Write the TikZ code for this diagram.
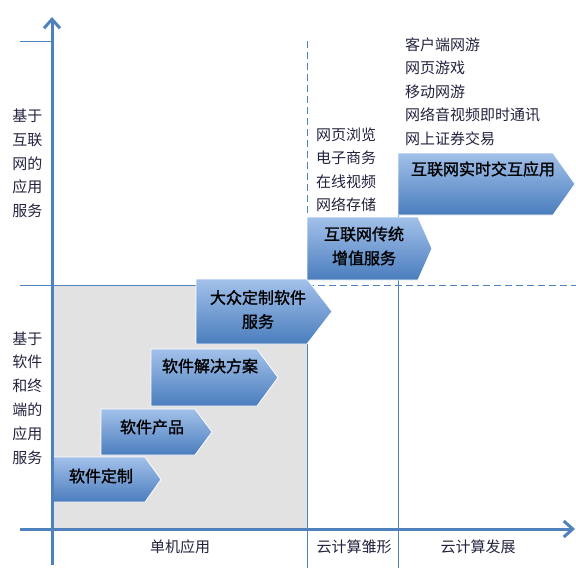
\documentclass[tikz,border=0pt]{standalone}
\usepackage{fontspec}
\setmainfont{Noto Sans CJK SC}
\newfontfamily\stagefont[FakeBold=1.4]{Noto Sans CJK SC}
\usetikzlibrary{arrows.meta}

\definecolor{axisblue}{HTML}{4F81BD}
\definecolor{boxtop}{HTML}{A3C1EA}
\definecolor{boxbottom}{HTML}{4A7DBD}
\definecolor{zonegray}{HTML}{E2E2E2}
\definecolor{labeltext}{HTML}{23233F}

\begin{document}
\begin{tikzpicture}[
    x=1pt,
    y=-1pt,
    axisline/.style={
        axisblue,
        line width=3pt,
        -{Straight Barb[length=9pt,width=16pt]}
    },
    guide/.style={
        axisblue,
        line width=1pt
    },
    guidedash/.style={
        guide,
        dash pattern=on 7pt off 4pt
    },
    stage/.style={
        top color=boxtop,
        bottom color=boxbottom,
        draw=white,
        line width=0.8pt
    },
    stagetext/.style={
        font=\stagefont\fontsize{16pt}{24pt}\selectfont,
        align=center,
        inner sep=0pt
    },
    sidetext/.style={
        labeltext,
        font=\fontsize{15pt}{23.8pt}\selectfont,
        align=center,
        inner sep=0pt
    },
    itemlist/.style={
        labeltext,
        font=\fontsize{15pt}{23.5pt}\selectfont,
        align=left,
        inner sep=0pt,
        anchor=north west
    }
]

\useasboundingbox (0,0) rectangle (576,568);

% zone of the standalone era
\fill[zonegray] (52,285) rectangle (307,529);

% guide lines
\draw[guide] (20,41) -- (52,41);
\draw[guide] (20,285) -- (307,285);
\draw[guidedash] (307,285) -- (576,285);
\draw[guidedash] (307,41) -- (307,217);
\draw[guide] (307,285) -- (307,568);
\draw[guide] (398,215) -- (398,568);

% stages
\shade[stage] (51,457) -- (145,457) -- (161,479.5) -- (145,502) -- (51,502) -- cycle;
\shade[stage] (101,409) -- (195,409) -- (212,432) -- (195,455) -- (101,455) -- cycle;
\shade[stage] (151,349) -- (257,349) -- (278,377.5) -- (257,406) -- (151,406) -- cycle;
\shade[stage] (196,279) -- (307,279) -- (332,311.5) -- (307,344) -- (196,344) -- cycle;
\shade[stage] (307,217) -- (418,217) -- (432,248.5) -- (418,280) -- (307,280) -- cycle;
\shade[stage] (398,153) -- (553,153) -- (575,184) -- (553,215) -- (398,215) -- cycle;

\node[stagetext] (custom) at (101,476) {软件定制};
\node[stagetext] (product) at (152,427) {软件产品};
\node[stagetext] (solution) at (210,366) {软件解决方案};
\node[stagetext] (masscustom) at (258,309.5) {大众定制软件\\服务};
\node[stagetext] (netvalue) at (364,246) {互联网传统\\增值服务};
\node[stagetext] (realtime) at (483,169) {互联网实时交互应用};

% examples
\node[itemlist] (weblist) at (316,127.5) {网页浏览\\电子商务\\在线视频\\网络存储};
\node[itemlist] (gamelist) at (405,37.5) {客户端网游\\网页游戏\\移动网游\\网络音视频即时通讯\\网上证券交易};

% axis labels
\node[sidetext] (netlabel) at (27.5,163.5) {基于\\互联\\网的\\应用\\服务};
\node[sidetext] (softlabel) at (27.5,398) {基于\\软件\\和终\\端的\\应用\\服务};
\node[sidetext] (standalone) at (180,547) {单机应用};
\node[sidetext] (cloudinit) at (354,547) {云计算雏形};
\node[sidetext] (clouddev) at (478,547) {云计算发展};

% axes
\coordinate (ybottom) at (52,565);
\coordinate (ytop) at (52,17);
\coordinate (xleft) at (20,529);
\coordinate (xright) at (575,529);
\draw[axisline] (ybottom) -- (ytop);
\draw[axisline] (xleft) -- (xright);

\end{tikzpicture}
\end{document}
